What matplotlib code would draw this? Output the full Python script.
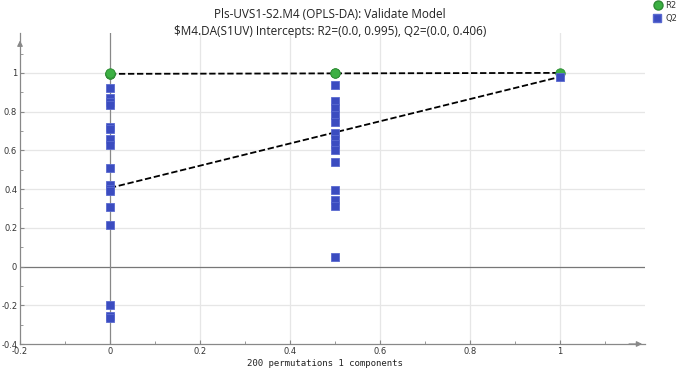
import matplotlib
matplotlib.use("Agg")
import matplotlib.pyplot as plt
import numpy as np

# Data
r2_x = [0, 0, 0, 0.5, 0.5, 1]
r2_y = [0.995, 0.996, 0.997, 0.999, 1.0, 1.0]
q2_x0 = [0.921, 0.87, 0.852, 0.832, 0.72, 0.71, 0.658, 0.629, 0.509, 0.42, 0.40, 0.39, 0.306, 0.213, -0.20, -0.255, -0.265]
q2_x05 = [0.935, 0.857, 0.82, 0.783, 0.744, 0.692, 0.661, 0.632, 0.603, 0.54, 0.393, 0.345, 0.311, 0.048]
q2_x1 = [0.979]
r2_intercept = 0.995
q2_intercept = 0.406
r2_end = 1.0
q2_end = 0.979

title = "Pls-UVS1-S2.M4 (OPLS-DA): Validate Model\n$M4.DA(S1UV) Intercepts: R2=(0.0, 0.995), Q2=(0.0, 0.406)"
xlabel = "200 permutations 1 components"

fig = plt.figure(figsize=(6.77, 3.68), dpi=100)
ax = fig.add_axes([20/677, 24/368, (645-20)/677, (344-33)/368])
ax.set_xlim(-0.2, 1.19)
ax.set_ylim(-0.4, 1.206)

grid_c = "#e6e6e6"
for gx in [0.2, 0.4, 0.6, 0.8, 1.0]:
    ax.axvline(gx, color=grid_c, lw=0.9, zorder=0)
for gy in [-0.2, 0.2, 0.4, 0.6, 0.8, 1.0]:
    ax.axhline(gy, color=grid_c, lw=0.9, zorder=0)
ax.axhline(0, color="#777777", lw=0.9, zorder=1)
ax.axvline(0, color="#888888", lw=0.9, zorder=1)

# regression lines
ax.plot([0, 1], [r2_intercept, r2_end], ls=(0, (3.5, 1.5)), color="black", lw=1.3, zorder=2)
ax.plot([0, 1], [q2_intercept, q2_end], ls=(0, (3.5, 1.5)), color="black", lw=1.3, zorder=2)

qx = [0]*len(q2_x0) + [0.5]*len(q2_x05) + [1]*len(q2_x1)
qy = q2_x0 + q2_x05 + q2_x1
ax.plot(r2_x, r2_y, ls="none", marker="o", ms=6.8, mfc="#3cb043", mec="#2e8a34", mew=0.6, zorder=3)
ax.plot(qx, qy, ls="none", marker="s", ms=5.8, mfc="#3b4cc0", mec="#5a6ad0", mew=0.6, zorder=4)

for s in ["top", "right"]:
    ax.spines[s].set_visible(False)
for s in ["left", "bottom"]:
    ax.spines[s].set_color("#888888")
    ax.spines[s].set_linewidth(0.9)

# arrows
ax.annotate("", xy=(1.0, 0), xytext=(0.97, 0), xycoords="axes fraction",
            arrowprops=dict(arrowstyle="-|>", color="#888888", lw=0.9, mutation_scale=8))
ax.annotate("", xy=(0, 0.985), xytext=(0, 0.95), xycoords="axes fraction",
            arrowprops=dict(arrowstyle="-|>", color="#888888", lw=0.9, mutation_scale=8))

ax.set_xticks([-0.2, 0, 0.2, 0.4, 0.6, 0.8, 1])
ax.set_xticklabels(["-0.2", "0", "0.2", "0.4", "0.6", "0.8", "1"])
ax.set_yticks([-0.4, -0.2, 0, 0.2, 0.4, 0.6, 0.8, 1])
ax.set_yticklabels(["-0.4", "-0.2", "0", "0.2", "0.4", "0.6", "0.8", "1"])
ax.set_xticks(np.arange(-0.1, 1.15, 0.2), minor=True)
ax.set_yticks(np.arange(-0.3, 1.15, 0.2), minor=True)
ax.tick_params(axis="both", which="both", direction="in", color="#888888", labelsize=6,
               labelcolor="#333333", pad=2)
ax.tick_params(which="major", length=3)
ax.tick_params(which="minor", length=2.5)

fig.text(330/677, 1 - 23/368, title, ha="center", va="center", fontsize=8.5,
         family="Open Sans", color="#222222", linespacing=1.5)
fig.text(325/677, 1 - 363/368, xlabel, ha="center", va="center", fontsize=6.5,
         family="DejaVu Sans Mono", color="#222222")

# legend
fig.lines.append(plt.Line2D([658/677], [1 - 5/368], transform=fig.transFigure, marker="o", ms=6.5,
                            mfc="#3cb043", mec="#2e8a34", ls="none"))
fig.lines.append(plt.Line2D([657/677], [1 - 18/368], transform=fig.transFigure, marker="s", ms=6,
                            mfc="#3b4cc0", mec="#5a6ad0", ls="none"))
fig.text(665/677, 1 - 5/368, "R2", fontsize=6, va="center", color="#333333")
fig.text(665/677, 1 - 18/368, "Q2", fontsize=6, va="center", color="#333333")

fig.savefig("out.png", dpi=100)
